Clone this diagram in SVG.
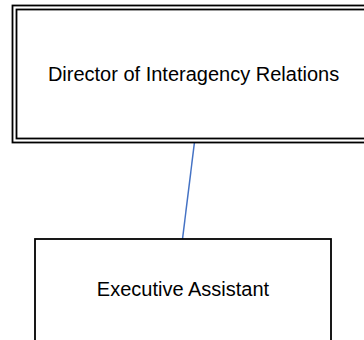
<svg xmlns="http://www.w3.org/2000/svg" width="364" height="340" viewBox="0 0 364 340">
<style>
.box{fill:#fff;stroke:#000;stroke-width:1.8}
.lbl{font-family:"Liberation Sans",Arial,sans-serif;font-size:20px;fill:#000;text-anchor:middle}
.conn{stroke:#4472c4;stroke-width:1.5;fill:none}
</style>
<rect width="364" height="340" fill="#fff"/>
<g id="connectors">
<line class="conn" x1="194.5" y1="142" x2="182.5" y2="239"/>
</g>
<g id="director">
<rect class="box" x="12.5" y="5.5" width="360" height="137"/>
<rect class="box" x="16.5" y="9.5" width="352" height="129"/>
<text class="lbl" x="193.5" y="81">Director of Interagency Relations</text>
</g>
<g id="assistant">
<rect class="box" x="35" y="239" width="296" height="120"/>
<text class="lbl" x="183" y="295.5">Executive Assistant</text>
</g>
</svg>
